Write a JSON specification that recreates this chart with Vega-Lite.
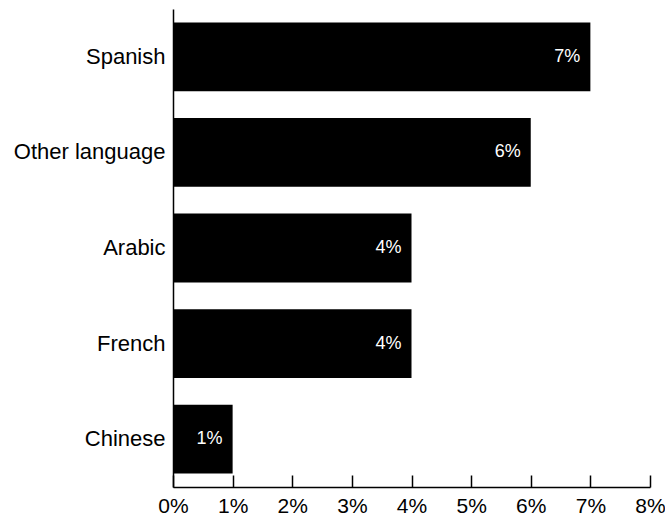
{
  "$schema": "https://vega.github.io/schema/vega-lite/v6.json",
  "autosize": {"type": "none"},
  "padding": {"left": 173, "top": 9, "right": 15, "bottom": 28},
  "width": 477,
  "height": 478,
  "background": "white",
  "data": {"values": [
    {"language": "Spanish", "share": 0.07, "label": "7%"},
    {"language": "Other language", "share": 0.06, "label": "6%"},
    {"language": "Arabic", "share": 0.04, "label": "4%"},
    {"language": "French", "share": 0.04, "label": "4%"},
    {"language": "Chinese", "share": 0.01, "label": "1%"}
  ]},
  "config": {
    "view": {"stroke": null},
    "font": "Liberation Sans",
    "axis": {"grid": false, "title": null, "domainColor": "#000", "domainWidth": 1.5, "tickColor": "#000", "tickWidth": 1.5, "labelColor": "#000", "labelFont": "Liberation Sans", "labelFontSize": 21}
  },
  "encoding": {
    "y": {"field": "language", "type": "nominal", "sort": null,
      "scale": {"paddingInner": 0.28, "paddingOuter": 0.14},
      "axis": {"ticks": false, "labelPadding": 8, "labelFontSize": 22}},
    "x": {"field": "share", "type": "quantitative",
      "scale": {"domain": [0, 0.08], "nice": false},
      "axis": {"values": [0, 0.01, 0.02, 0.03, 0.04, 0.05, 0.06, 0.07, 0.08], "format": ".0%", "tickSize": -12, "labelPadding": 20, "labelFlush": false}}
  },
  "layer": [
    {"mark": {"type": "bar", "color": "#000"}},
    {"mark": {"type": "text", "color": "white", "align": "right", "baseline": "middle", "dx": -10, "fontSize": 18},
     "encoding": {"text": {"field": "label"}}}
  ]
}
